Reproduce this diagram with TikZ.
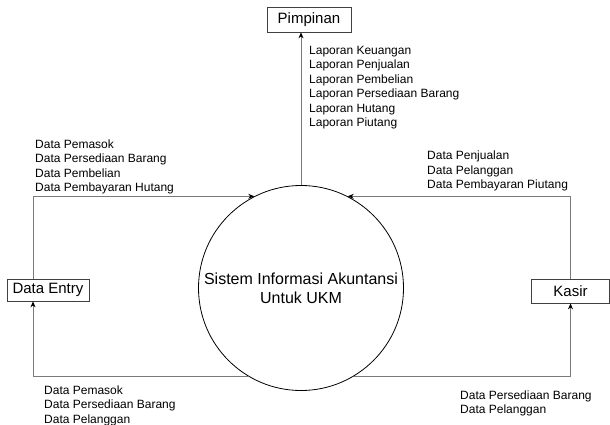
\documentclass[tikz,border=0pt]{standalone}
\usepackage{fontspec}
\setmainfont{Liberation Sans}
\usepackage{tikz}
\usetikzlibrary{arrows.meta,calc}
\definecolor{flow}{HTML}{7A7A7A}

\begin{document}
\begin{tikzpicture}[x=1pt, y=-1pt, >={Stealth[length=6pt,width=5pt,black]},
    entity/.style={draw=black!75, line width=0.7pt, fill=white, inner sep=0pt},
    flowline/.style={draw=flow, line width=0.8pt, ->},
    flowtext/.style={anchor=north west, inner sep=0pt, align=left,
        font=\fontsize{12}{14.5}\selectfont}]
    \useasboundingbox (0,0) rectangle (610,425);

    % proses utama
    \node[draw=black, line width=0.8pt, circle, minimum size=205pt, inner sep=0pt,
        align=center, font=\fontsize{16}{19}\selectfont] (sys) at (301,288)
        {Sistem Informasi Akuntansi\\Untuk UKM};

    % entitas luar
    \node[entity, minimum width=84pt, minimum height=25pt, font=\fontsize{15}{18}\selectfont]
        (pimpinan) at (309,19.5) {Pimpinan};
    \node[entity, minimum width=82pt, minimum height=22pt, font=\fontsize{15}{18}\selectfont]
        (entry) at (48,290) {Data Entry};
    \node[entity, minimum width=78pt, minimum height=24pt, font=\fontsize{15}{18}\selectfont]
        (kasir) at (570.5,291) {Kasir};

    % aliran data
    \draw[flowline] (sys.north) -- (sys.north |- pimpinan.south);
    \draw[flowline] ([xshift=-15pt]entry.north) |- (sys.117);
    \draw[flowline] (kasir.north) |- (sys.63);
    \draw[flowline] (sys.239) -| ([xshift=-15pt]entry.south);
    \draw[flowline] (sys.301) -| (kasir.south);

    % label aliran
    \node[flowtext] (lap) at (309,46) {Laporan Keuangan\\Laporan Penjualan\\Laporan Pembelian\\%
        Laporan Persediaan Barang\\Laporan Hutang\\Laporan Piutang};
    \node[flowtext] (inentry) at (35,139.5) {Data Pemasok\\Data Persediaan Barang\\%
        Data Pembelian\\Data Pembayaran Hutang};
    \node[flowtext] (inkasir) at (427,151) {Data Penjualan\\Data Pelanggan\\%
        Data Pembayaran Piutang};
    \node[flowtext] (outentry) at (44,385.5) {Data Pemasok\\Data Persediaan Barang\\%
        Data Pelanggan};
    \node[flowtext] (outkasir) at (460,390.5) {Data Persediaan Barang\\Data Pelanggan};
\end{tikzpicture}
\end{document}
